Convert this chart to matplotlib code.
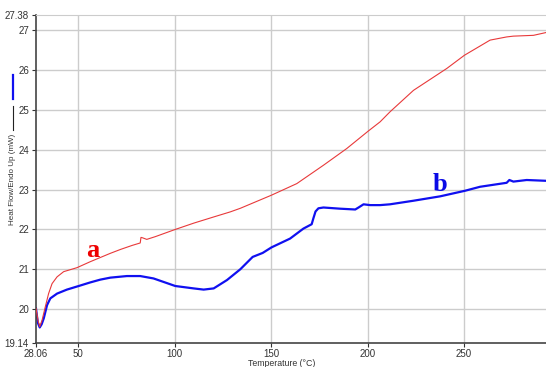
import numpy as np
import matplotlib.pyplot as plt
from matplotlib.lines import Line2D

# temperature (deg C) / heat flow (mW) read from the two DSC runs
temp_a = [28.06, 29.2, 30.0, 31.2, 32.9, 34.6, 36.4, 39.0, 42.4, 49.3, 56.2, 66.6, 72.0,
          78.0, 82.1, 82.5, 83.3, 85.5, 90.0, 100.3, 110.0, 120.0, 128.8, 134.0, 150.2,
          163.3, 177.1, 189.2, 200.4, 206.5, 211.6, 223.8, 241.1, 250.2, 263.5, 272.1,
          275.6, 286.0, 292.5]
flow_a = [20.02, 19.70, 19.56, 19.72, 20.06, 20.39, 20.64, 20.81, 20.94, 21.04, 21.19, 21.40,
          21.50, 21.60, 21.66, 21.80, 21.79, 21.75, 21.82, 22.00, 22.16, 22.31, 22.44, 22.53,
          22.86, 23.15, 23.61, 24.03, 24.47, 24.70, 24.95, 25.49, 26.04, 26.37, 26.75, 26.83,
          26.85, 26.87, 26.94]

temp_b = [28.06, 29.0, 30.0, 31.0, 32.1, 33.8, 35.5, 39.0, 44.1, 50.2, 56.2, 61.4, 66.6,
          75.2, 82.1, 89.0, 100.3, 109.8, 115.0, 120.2, 127.1, 134.0, 140.4, 145.6, 150.2,
          159.8, 166.7, 171.0, 171.9, 173.0, 174.5, 177.1, 185.8, 193.6, 195.3, 197.9,
          201.3, 206.5, 211.6, 223.8, 237.6, 250.5, 258.3, 272.1, 273.5, 275.6, 282.5, 292.5]
flow_b = [20.02, 19.66, 19.54, 19.62, 19.77, 20.10, 20.27, 20.39, 20.49, 20.58, 20.67, 20.74,
          20.79, 20.83, 20.83, 20.77, 20.58, 20.52, 20.49, 20.52, 20.73, 21.00, 21.31, 21.41,
          21.55, 21.77, 22.02, 22.13, 22.28, 22.45, 22.53, 22.55, 22.52, 22.50, 22.55, 22.63,
          22.61, 22.61, 22.63, 22.72, 22.83, 22.97, 23.07, 23.17, 23.24, 23.20, 23.24, 23.22]

x_ticks = [28.06, 50, 100, 150, 200, 250]
x_labels = ["28.06", "50", "100", "150", "200", "250"]
y_ticks = [19.14, 20, 21, 22, 23, 24, 25, 26, 27, 27.38]
y_labels = ["19.14", "20", "21", "22", "23", "24", "25", "26", "27", "27.38"]

plt.rcParams['font.family'] = ['Liberation Sans', 'DejaVu Sans']

fig = plt.figure(figsize=(5.46, 3.67), dpi=100)
ax = fig.add_axes([0.0659, 0.0643, 0.9341, 0.8948])

# light grid on the round values only
for xv in [50, 100, 150, 200, 250]:
    ax.axvline(xv, color='#cccccc', lw=1.0, zorder=0)
for yv in [20, 21, 22, 23, 24, 25, 26, 27]:
    ax.axhline(yv, color='#cccccc', lw=1.0, zorder=0)

ax.plot(temp_a, flow_a, color='#e8393a', lw=0.8, zorder=3)
ax.plot(temp_b, flow_b, color='#1010f0', lw=1.6, zorder=2)

ax.text(57.5, 21.3, "a", color='#ee0000', fontsize=19,
        fontweight='bold', family='Liberation Serif', ha='center', va='baseline')
ax.text(237.6, 22.96, "b", color='#0a0ae6', fontsize=19,
        fontweight='bold', family='Liberation Serif', ha='center', va='baseline')

ax.set_xlim(28.06, 292.5)
ax.set_ylim(19.14, 27.38)
ax.set_xticks(x_ticks)
ax.set_xticklabels(x_labels)
ax.set_yticks(y_ticks)
ax.set_yticklabels(y_labels)
ax.tick_params(labelsize=7, colors='#333333', length=3, width=0.8, pad=2)
ax.tick_params(axis='x', pad=1)

ax.spines['right'].set_visible(False)
ax.spines['top'].set_color('#cccccc')
ax.spines['left'].set_color('#444444')
ax.spines['bottom'].set_color('#444444')
ax.spines['left'].set_linewidth(1.2)
ax.spines['bottom'].set_linewidth(1.2)

fig.text(282 / 546, 1 - 363.5 / 367, "Temperature (°C)", fontsize=6.3,
         color='#333333', ha='center', va='center')
fig.text(13 / 546, 1 - 179 / 367, "Heat Flow/Endo Up (mW)", rotation=90,
         fontsize=5.8, color='#333333', ha='center', va='center')

# little series key next to the y label
fig.add_artist(Line2D([13 / 546, 13 / 546], [1 - 75 / 367, 1 - 99 / 367],
                      color='#1010f0', lw=1.6))
fig.add_artist(Line2D([13 / 546, 13 / 546], [1 - 106 / 367, 1 - 130 / 367],
                      color='#222222', lw=0.8))

fig.savefig("out.png", dpi=100)
